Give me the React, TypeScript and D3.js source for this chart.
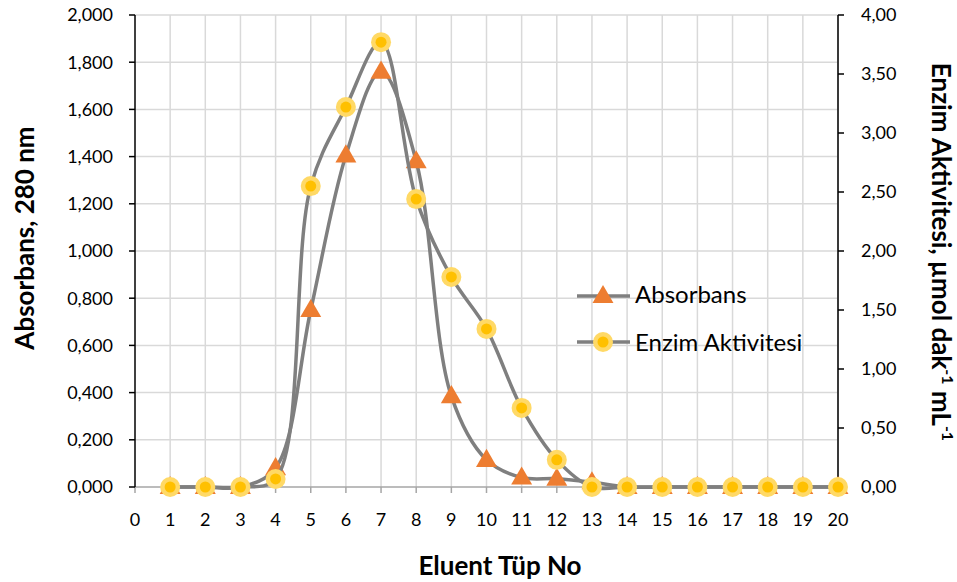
import React, { useEffect } from 'react';
import * as d3 from 'd3';

const width = 957;
const height = 582;
const margin = { top: 15, right: 119, bottom: 95, left: 135 };
const gray = '#7f7f7f';
const grid = '#d9d9d9';
const orange = '#ed7d31';
const gold = '#ffc000';
const goldLight = '#ffd966';
const font = 'Lato, "Open Sans", sans-serif';

// tube numbers and the two measured series
const tubes = [1, 2, 3, 4, 5, 6, 7, 8, 9, 10, 11, 12, 13, 14, 15, 16, 17, 18, 19, 20];
const absorbans = [0, 0, 0, 0.08, 0.75, 1.405, 1.76, 1.38, 0.385, 0.115, 0.04, 0.035, 0.02, 0, 0, 0, 0, 0, 0, 0];
const enzim = [0, 0, 0, 0.068, 2.55, 3.22, 3.77, 2.44, 1.78, 1.34, 0.67, 0.23, 0, 0, 0, 0, 0, 0, 0, 0];

const xTicks = [0, 1, 2, 3, 4, 5, 6, 7, 8, 9, 10, 11, 12, 13, 14, 15, 16, 17, 18, 19, 20];
const leftTicks = [0, 0.2, 0.4, 0.6, 0.8, 1.0, 1.2, 1.4, 1.6, 1.8, 2.0];
const rightTicks = [0, 0.5, 1.0, 1.5, 2.0, 2.5, 3.0, 3.5, 4.0];

const x = d3.scaleLinear().domain([0, 20]).range([margin.left, width - margin.right]);
const yL = d3.scaleLinear().domain([0, 2]).range([height - margin.bottom, margin.top]);
const yR = d3.scaleLinear().domain([0, 4]).range([height - margin.bottom, margin.top]);

const fmtL = (d: number) => d3.format('.3f')(d).replace('.', ',');
const fmtR = (d: number) => d3.format('.2f')(d).replace('.', ',');

const lineL = d3.line<number>().x((_, i) => x(tubes[i])).y(d => yL(d)).curve(d3.curveCatmullRom);
const lineR = d3.line<number>().x((_, i) => x(tubes[i])).y(d => yR(d)).curve(d3.curveCatmullRom);

const tri = d3.symbol().type(d3.symbolTriangle).size(190);

const Triangle = ({ cx, cy }: { cx: number; cy: number }) => (
  <path d={tri() || ''} transform={`translate(${cx},${cy + 1})`} fill={orange} />
);

const Dot = ({ cx, cy }: { cx: number; cy: number }) => (
  <g>
    <circle cx={cx} cy={cy} r={10} fill={goldLight} />
    <circle cx={cx} cy={cy} r={5.5} fill={gold} />
  </g>
);

export default function App() {
  useEffect(() => {
    document.body.style.margin = '0';
  }, []);

  const x0 = margin.left;
  const x1 = width - margin.right;
  const y0 = height - margin.bottom;
  const y1 = margin.top;

  return (
    <svg width={width} height={height} style={{ display: 'block', fontFamily: font }}>
      {/* grid */}
      {xTicks.slice(1).map(t => (
        <line key={'gx' + t} x1={x(t)} x2={x(t)} y1={y1} y2={y0} stroke={grid} strokeWidth={1.5} />
      ))}
      {leftTicks.slice(1).map(t => (
        <line key={'gy' + t} x1={x0} x2={x1} y1={yL(t)} y2={yL(t)} stroke={grid} strokeWidth={1.5} />
      ))}

      {/* x axis */}
      <line x1={x0} x2={x1} y1={y0} y2={y0} stroke="#a6a6a6" strokeWidth={1.5} />
      {xTicks.map(t => (
        <g key={'xt' + t}>
          <line x1={x(t)} x2={x(t)} y1={y0} y2={y0 + 6} stroke="#a6a6a6" strokeWidth={1.5} />
          <text x={x(t)} y={y0 + 39} textAnchor="middle" fontSize={18} fill="#000">{t}</text>
        </g>
      ))}

      {/* left axis */}
      <line x1={x0} x2={x0} y1={y1} y2={y0} stroke="#000" strokeWidth={1.5} />
      {leftTicks.map(t => (
        <g key={'lt' + t}>
          <line x1={x0 - 6} x2={x0} y1={yL(t)} y2={yL(t)} stroke="#000" strokeWidth={1.5} />
          <text x={x0 - 22} y={yL(t)} dy="0.36em" textAnchor="end" fontSize={18} fill="#000">{fmtL(t)}</text>
        </g>
      ))}

      {/* right axis */}
      <line x1={x1} x2={x1} y1={y1} y2={y0} stroke="#000" strokeWidth={1.5} />
      {rightTicks.map(t => (
        <g key={'rt' + t}>
          <line x1={x1} x2={x1 + 6} y1={yR(t)} y2={yR(t)} stroke="#000" strokeWidth={1.5} />
          <text x={x1 + 23} y={yR(t)} dy="0.36em" textAnchor="start" fontSize={18} fill="#000">{fmtR(t)}</text>
        </g>
      ))}

      {/* series */}
      <path d={lineL(absorbans) || ''} fill="none" stroke={gray} strokeWidth={3.5} />
      {absorbans.map((d, i) => <Triangle key={'a' + i} cx={x(tubes[i])} cy={yL(d)} />)}
      <path d={lineR(enzim) || ''} fill="none" stroke={gray} strokeWidth={3.5} />
      {enzim.map((d, i) => <Dot key={'e' + i} cx={x(tubes[i])} cy={yR(d)} />)}

      {/* legend */}
      <g>
        <line x1={577} x2={630} y1={296} y2={296} stroke={gray} strokeWidth={3.5} />
        <Triangle cx={603} cy={296} />
        <text x={635} y={303} fontSize={24} fill="#000">Absorbans</text>
        <line x1={577} x2={630} y1={342} y2={342} stroke={gray} strokeWidth={3.5} />
        <Dot cx={603} cy={342} />
        <text x={635} y={351} fontSize={24} fill="#000">Enzim Aktivitesi</text>
      </g>

      {/* axis titles */}
      <text x={500} y={575} textAnchor="middle" fontSize={26} fontWeight="bold" fill="#000">Eluent Tüp No</text>
      <text transform={`translate(34,238) rotate(-90)`} textAnchor="middle" fontSize={26} fontWeight="bold" fill="#000">
        Absorbans, 280 nm
      </text>
      <text transform={`translate(932,252) rotate(90)`} textAnchor="middle" fontSize={26} fontWeight="bold" fill="#000">
        Enzim Aktivitesi, µmol dak<tspan fontSize={16} dy={-10}>-1</tspan><tspan dy={10}> mL</tspan><tspan fontSize={16} dy={-10}>-1</tspan>
      </text>
    </svg>
  );
}
